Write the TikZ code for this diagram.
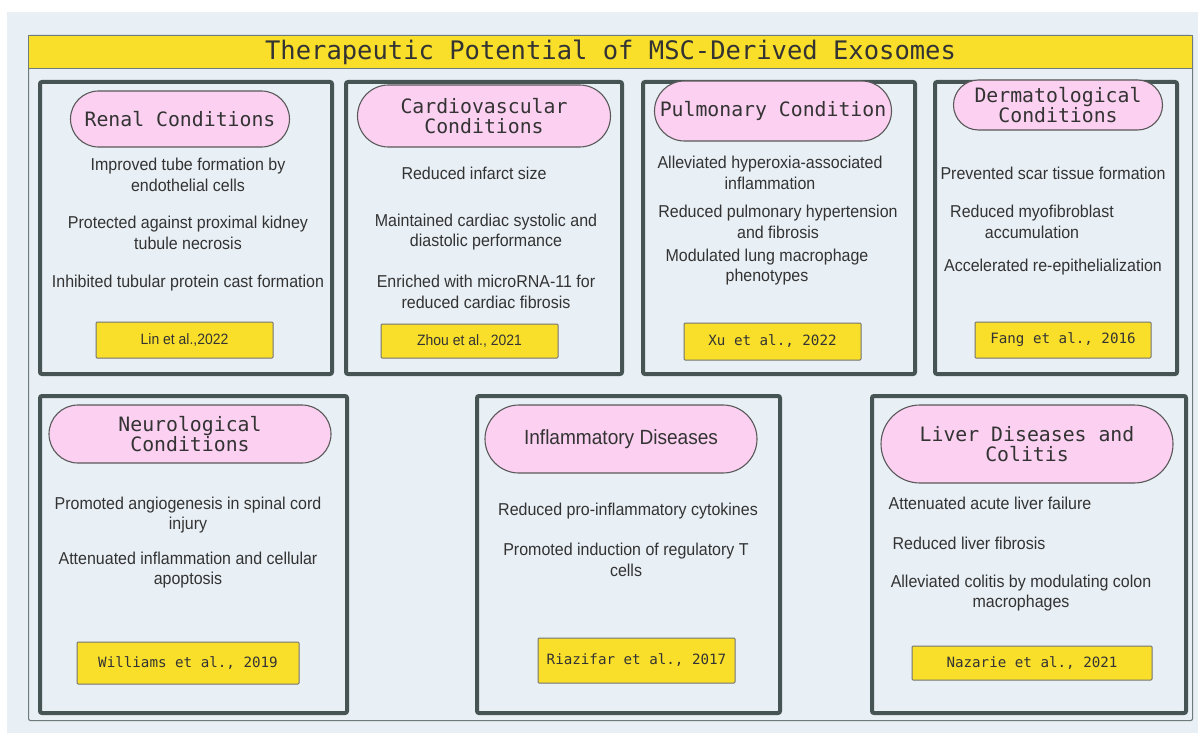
\documentclass[tikz,border=0pt]{standalone}
\usepackage{fontspec}
\setmainfont{Liberation Sans}[FakeStretch=0.93]
\newfontfamily\monofont{DejaVu Sans Mono}
\usetikzlibrary{shapes.misc}
\definecolor{bgblue}{HTML}{E8EFF5}
\definecolor{panelgray}{HTML}{465454}
\definecolor{framegray}{HTML}{6E7C7C}
\definecolor{pillpink}{HTML}{FBD0F1}
\definecolor{citeyellow}{HTML}{F9DF2A}
\definecolor{textgray}{HTML}{333333}
\begin{document}
\begin{tikzpicture}[x=1pt, y=-1pt,
    panel/.style={draw=panelgray, line width=4pt, fill=bgblue, rounded corners=2pt, anchor=north west, inner sep=0pt},
    pill/.style={rounded rectangle, draw=black!65, line width=1.1pt, fill=pillpink, inner sep=0pt, align=center, text=textgray, font=\monofont\fontsize{19.8}{20}\selectfont},
    cite/.style={draw=black!55, line width=1pt, fill=citeyellow, rounded corners=1pt, inner sep=0pt, text=textgray},
    citemono/.style={cite, font=\monofont\fontsize{14.2}{16}\selectfont},
    citesans/.style={cite, font=\fontsize{15}{16}\selectfont},
    note/.style={align=center, inner sep=0pt, text=textgray, font=\fontsize{17.2}{20.5}\selectfont}]
    % page and outer frame
    \fill[white] (0,0) rectangle (1198,733);
    \fill[bgblue] (7,12) rectangle (1198,733);
    \node[draw=framegray, line width=1.1pt, rounded corners=2pt, anchor=north west, minimum width=1164pt, minimum height=685pt, inner sep=0pt] (frame) at (28,35) {};
    \node[draw=framegray, line width=1.1pt, fill=citeyellow, anchor=north west, minimum width=1164pt, minimum height=33pt, inner sep=0pt, text=textgray, font=\monofont\fontsize{25.5}{26}\selectfont] (title) at (28,35) {Therapeutic Potential of MSC-Derived Exosomes};
    % panels, top row
    \node[panel, minimum width=292pt, minimum height=292pt] (renal) at (38,80) {};
    \node[panel, minimum width=276pt, minimum height=292pt] (cardio) at (344,80) {};
    \node[panel, minimum width=272pt, minimum height=292pt] (pulmo) at (641,80) {};
    \node[panel, minimum width=242pt, minimum height=292pt] (derma) at (933,80) {};
    % panels, bottom row
    \node[panel, minimum width=307pt, minimum height=317pt] (neuro) at (38,394) {};
    \node[panel, minimum width=303pt, minimum height=317pt] (inflam) at (475,394) {};
    \node[panel, minimum width=314pt, minimum height=317pt] (liver) at (870,394) {};
    % headings
    \node[pill, minimum width=219pt, minimum height=56pt] (renalhead) at (180,119) {Renal Conditions};
    \node[pill, minimum width=253pt, minimum height=62pt] (cardiohead) at (484,116) {Cardiovascular\\Conditions};
    \node[pill, minimum width=237pt, minimum height=60pt] (pulmohead) at (773,111) {Pulmonary Condition};
    \node[pill, minimum width=209pt, minimum height=50pt] (dermahead) at (1058,105) {Dermatological\\Conditions};
    \node[pill, minimum width=282pt, minimum height=58pt] (neurohead) at (190,434) {Neurological\\Conditions};
    \node[pill, minimum width=272pt, minimum height=68pt, font=\fontsize{20.5}{20}\selectfont] (inflamhead) at (621,439) {Inflammatory Diseases};
    \node[pill, minimum width=292pt, minimum height=78pt] (liverhead) at (1027,444) {Liver Diseases and\\Colitis};
    % findings
    \node[note] (renal1) at (188,175) {Improved tube formation by\\endothelial cells};
    \node[note] (renal2) at (188,233) {Protected against proximal kidney\\tubule necrosis};
    \node[note] (renal3) at (188,283) {Inhibited tubular protein cast formation};
    \node[note] (cardio1) at (474,173) {Reduced infarct size};
    \node[note] (cardio2) at (486,232) {Maintained cardiac systolic and\\diastolic performance};
    \node[note] (cardio3) at (486,292) {Enriched with microRNA-11 for\\reduced cardiac fibrosis};
    \node[note] (pulmo1) at (770,173) {Alleviated hyperoxia-associated\\inflammation};
    \node[note] (pulmo2) at (778,222) {Reduced pulmonary hypertension\\and fibrosis};
    \node[note] (pulmo3) at (767,267) {Modulated lung macrophage\\phenotypes};
    \node[note] (derma1) at (1053,173) {Prevented scar tissue formation};
    \node[note] (derma2) at (1032,222) {Reduced myofibroblast\\accumulation};
    \node[note] (derma3) at (1053,267) {Accelerated re-epithelialization};
    \node[note] (neuro1) at (188,515) {Promoted angiogenesis in spinal cord\\injury};
    \node[note] (neuro2) at (188,570) {Attenuated inflammation and cellular\\apoptosis};
    \node[note] (inflam1) at (628,511) {Reduced pro-inflammatory cytokines};
    \node[note] (inflam2) at (626,560) {Promoted induction of regulatory T\\cells};
    \node[note] (liver1) at (990,503) {Attenuated acute liver failure};
    \node[note] (liver2) at (969,543) {Reduced liver fibrosis};
    \node[note] (liver3) at (1021,593) {Alleviated colitis by modulating colon\\macrophages};
    % references
    \node[citesans, minimum width=177pt, minimum height=36pt] (renalcite) at (184.5,340) {Lin et al.,2022};
    \node[citesans, minimum width=177pt, minimum height=34pt] (cardiocite) at (469.5,341) {Zhou et al., 2021};
    \node[citemono, minimum width=177pt, minimum height=37pt] (pulmocite) at (772.5,341.5) {Xu et al., 2022};
    \node[citemono, minimum width=176pt, minimum height=36pt] (dermacite) at (1063,340) {Fang et al., 2016};
    \node[citemono, minimum width=222pt, minimum height=42pt] (neurocite) at (188,663) {Williams et al., 2019};
    \node[citemono, minimum width=197pt, minimum height=45pt] (inflamcite) at (636.5,660.5) {Riazifar et al., 2017};
    \node[citemono, minimum width=240pt, minimum height=34pt] (livercite) at (1032,663) {Nazarie et al., 2021};
\end{tikzpicture}
\end{document}
